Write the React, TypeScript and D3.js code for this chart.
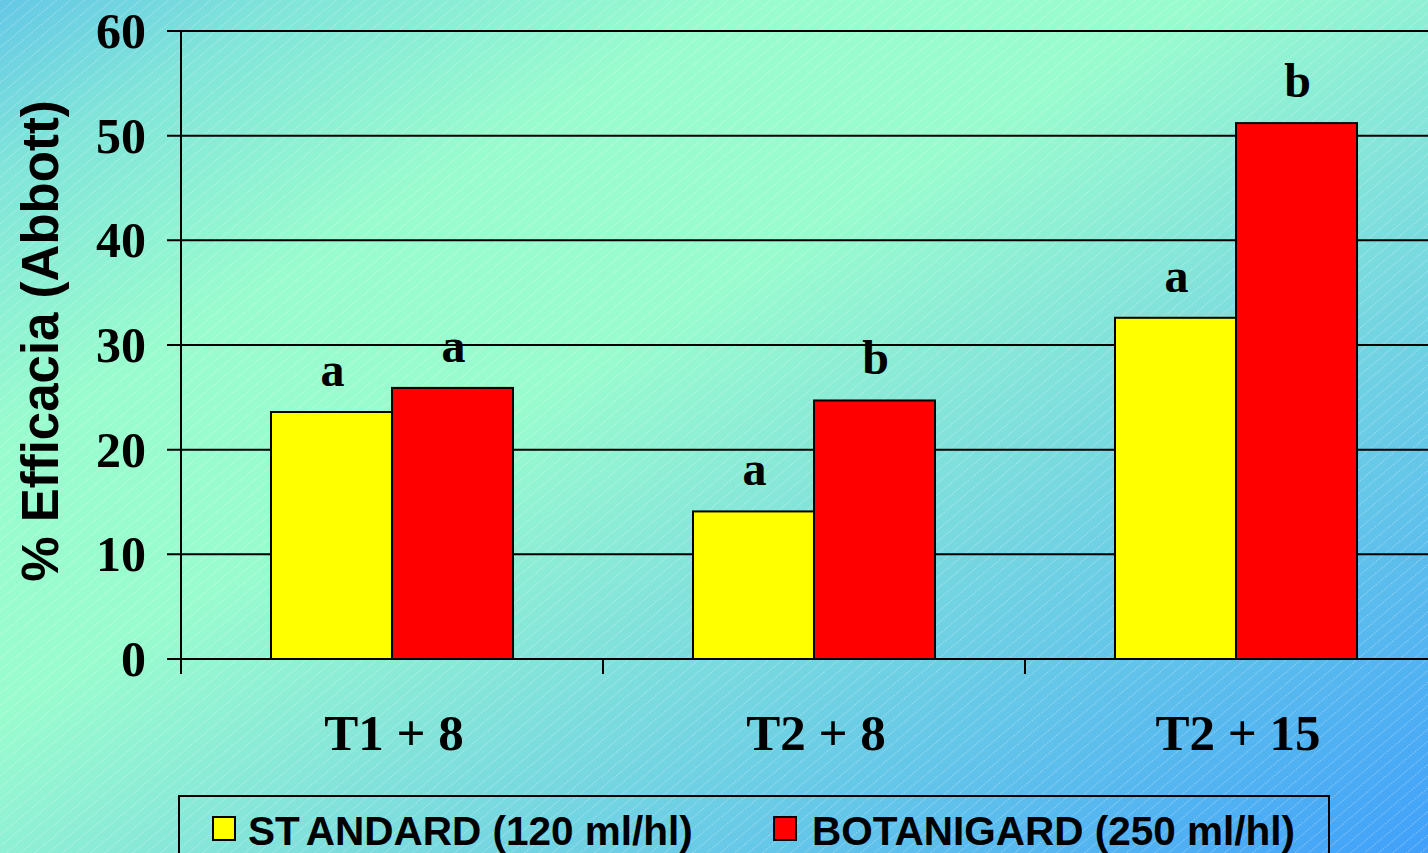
import React, { useEffect, useRef } from "react";
import * as d3 from "d3";

const categories = ["T1 + 8", "T2 + 8", "T2 + 15"];
const seriesNames = ["STANDARD (120 ml/hl)", "BOTANIGARD (250 ml/hl)"];
const seriesColors = ["#FFFF00", "#FF0000"];
const standardValues = [23.6, 14.1, 32.6];
const botanigardValues = [25.9, 24.7, 51.2];
const standardLetters = ["a", "a", "a"];
const botanigardLetters = ["a", "b", "b"];
const yTicks = [0, 10, 20, 30, 40, 50, 60];

const W = 1428;
const H = 853;

export default function App() {
  const ref = useRef<SVGSVGElement | null>(null);

  useEffect(() => {
    document.body.style.margin = "0";
    const svg = d3.select(ref.current);
    svg.selectAll("*").remove();

    const serif = "'Liberation Serif', 'Times New Roman', serif";
    const sans = "'Liberation Sans', Arial, sans-serif";

    const defs = svg.append("defs");
    const grad = defs
      .append("linearGradient")
      .attr("id", "bg")
      .attr("x1", 0)
      .attr("y1", 0)
      .attr("x2", 1)
      .attr("y2", 1);
    const stops: [number, string][] = [
      [0, "#64C8E6"],
      [0.1, "#80E4DA"],
      [0.26, "#99FCCE"],
      [0.42, "#99FCCE"],
      [0.55, "#88E8D8"],
      [0.76, "#66C8E8"],
      [1, "#40A0FA"],
    ];
    stops.forEach(([o, c]) => grad.append("stop").attr("offset", o).attr("stop-color", c));

    const pat = defs
      .append("pattern")
      .attr("id", "stripes")
      .attr("patternUnits", "userSpaceOnUse")
      .attr("width", 9)
      .attr("height", 9)
      .attr("patternTransform", "rotate(-40)");
    pat
      .append("line")
      .attr("x1", 0)
      .attr("x2", 9)
      .attr("y1", 0.5)
      .attr("y2", 0.5)
      .attr("stroke", "#ffffff")
      .attr("stroke-opacity", 0.28)
      .attr("stroke-width", 1)
      .attr("stroke-dasharray", "2 1");

    svg.append("rect").attr("width", W).attr("height", H).attr("fill", "url(#bg)");
    svg.append("rect").attr("width", W).attr("height", H).attr("fill", "url(#stripes)");

    const left = 181;
    const top = 31;
    const bottom = 659;
    const rightPlot = 1447;

    const y = d3.scaleLinear().domain([0, 60]).range([bottom, top]);
    const x = d3
      .scaleBand<string>()
      .domain(categories)
      .range([left, rightPlot])
      .paddingInner(0.4265)
      .paddingOuter(0.21325);
    const xs = d3.scaleBand<number>().domain([0, 1]).range([0, x.bandwidth()]);

    // gridlines
    svg
      .append("g")
      .selectAll("line")
      .data(yTicks)
      .join("line")
      .attr("x1", left - 14)
      .attr("x2", W)
      .attr("y1", (d) => y(d))
      .attr("y2", (d) => y(d))
      .attr("stroke", "#000")
      .attr("stroke-width", 2);

    // y tick labels
    svg
      .append("g")
      .selectAll("text")
      .data(yTicks)
      .join("text")
      .attr("x", 146)
      .attr("y", (d) => y(d))
      .attr("dy", "0.34em")
      .attr("text-anchor", "end")
      .attr("font-family", serif)
      .attr("font-weight", "bold")
      .attr("font-size", 50)
      .text((d) => String(d));

    // bars
    const values = [standardValues, botanigardValues];
    const letters = [standardLetters, botanigardLetters];
    values.forEach((vals, si) => {
      const g = svg.append("g");
      g.selectAll("rect")
        .data(vals)
        .join("rect")
        .attr("x", (_d, i) => (x(categories[i]) as number) + (xs(si) as number))
        .attr("y", (d) => y(d))
        .attr("width", xs.bandwidth())
        .attr("height", (d) => bottom - y(d))
        .attr("fill", seriesColors[si])
        .attr("stroke", "#000")
        .attr("stroke-width", 2);
      g.selectAll("text")
        .data(vals)
        .join("text")
        .attr("x", (_d, i) => (x(categories[i]) as number) + (xs(si) as number) + xs.bandwidth() / 2 + 1)
        .attr("y", (d) => y(d) - 26)
        .attr("text-anchor", "middle")
        .attr("font-family", serif)
        .attr("font-weight", "bold")
        .attr("font-size", 48)
        .text((_d, i) => letters[si][i]);
    });

    // axes lines
    svg
      .append("line")
      .attr("x1", left)
      .attr("x2", left)
      .attr("y1", top)
      .attr("y2", bottom + 15)
      .attr("stroke", "#000")
      .attr("stroke-width", 2);
    svg
      .append("line")
      .attr("x1", left - 14)
      .attr("x2", W)
      .attr("y1", bottom)
      .attr("y2", bottom)
      .attr("stroke", "#000")
      .attr("stroke-width", 2);
    // category boundary ticks
    const step = x.step();
    const boundaries = categories.map((_c, i) => left + i * step);
    svg
      .append("g")
      .selectAll("line")
      .data(boundaries)
      .join("line")
      .attr("x1", (d) => d)
      .attr("x2", (d) => d)
      .attr("y1", bottom)
      .attr("y2", bottom + 15)
      .attr("stroke", "#000")
      .attr("stroke-width", 2);

    // category labels
    svg
      .append("g")
      .selectAll("text")
      .data(categories)
      .join("text")
      .attr("x", (d) => (x(d) as number) + x.bandwidth() / 2 + 2)
      .attr("y", 750)
      .attr("text-anchor", "middle")
      .attr("font-family", serif)
      .attr("font-weight", "bold")
      .attr("font-size", 51)
      .text((d) => d);

    // y title
    svg
      .append("text")
      .attr("transform", "translate(58,341) rotate(-90)")
      .attr("text-anchor", "middle")
      .attr("font-family", sans)
      .attr("font-weight", "bold")
      .attr("font-size", 51)
      .text("% Efficacia (Abbott)");

    // legend
    svg
      .append("rect")
      .attr("x", 179)
      .attr("y", 796)
      .attr("width", 1150)
      .attr("height", 80)
      .attr("fill", "none")
      .attr("stroke", "#000")
      .attr("stroke-width", 2);
    const legendX = [213, 774];
    const legendTextX = [248, 812];
    seriesNames.forEach((name, i) => {
      svg
        .append("rect")
        .attr("x", legendX[i])
        .attr("y", 817)
        .attr("width", 22)
        .attr("height", 23)
        .attr("fill", seriesColors[i])
        .attr("stroke", "#000")
        .attr("stroke-width", 2);
      const t = svg
        .append("text")
        .attr("x", legendTextX[i])
        .attr("y", 845)
        .attr("font-family", sans)
        .attr("font-weight", "bold")
        .attr("font-size", 40.5);
      if (name.startsWith("ST")) {
        t.append("tspan").text("ST");
        t.append("tspan").attr("dx", 9).text(name.slice(2));
      } else {
        t.text(name);
      }
    });
  }, []);

  return (
    <svg
      ref={ref}
      width={W}
      height={H}
      style={{ position: "absolute", left: 0, top: 0, display: "block" }}
    />
  );
}
